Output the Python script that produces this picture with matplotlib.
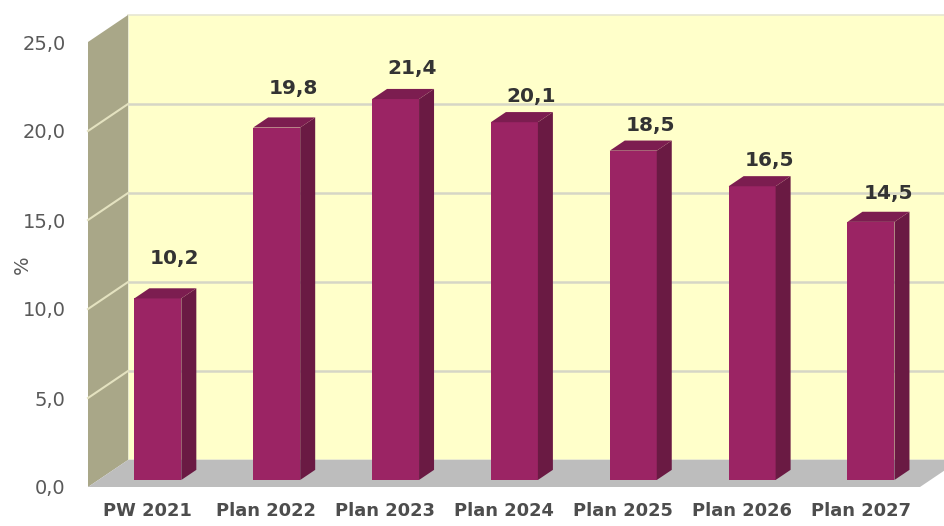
import matplotlib
matplotlib.use("Agg")
import matplotlib.pyplot as plt
from matplotlib.patches import Polygon

categories = ["PW 2021", "Plan 2022", "Plan 2023", "Plan 2024", "Plan 2025", "Plan 2026", "Plan 2027"]
values = [10.2, 19.8, 21.4, 20.1, 18.5, 16.5, 14.5]
value_labels = ["10,2", "19,8", "21,4", "20,1", "18,5", "16,5", "14,5"]
ytick_values = [0, 5, 10, 15, 20, 25]
ytick_labels = ["0,0", "5,0", "10,0", "15,0", "20,0", "25,0"]
label_gap = [2.25, 2.22, 1.74, 1.42, 1.40, 1.46, 1.62]

plt.rcParams['font.family'] = ['DejaVu Sans']

W, H = 945, 526
fig = plt.figure(figsize=(W / 100, H / 100), dpi=100)
fig.patch.set_facecolor("white")
ax_l, ax_b, ax_w, ax_h = 88, 39, 832, 445
ax = fig.add_axes([ax_l / W, ax_b / H, ax_w / W, ax_h / H])
n = len(categories)
x0, x1 = -0.5, n - 0.5
ax.set_xlim(x0, x1)
ax.set_ylim(0, 25)
ax.set_facecolor("none")
for s in ax.spines.values():
    s.set_visible(False)

# depth offsets in data units (40 px right, 27 px up)
px_x = ax_w / (x1 - x0)
px_y = ax_h / 25.0
DX = 40 / px_x
DY = 27 / px_y

def poly(pts, color, z, ec="none", lw=0):
    p = Polygon(pts, closed=True, facecolor=color, edgecolor=ec, linewidth=lw,
                zorder=z, clip_on=False)
    ax.add_patch(p)

# back wall
poly([(x0 + DX, DY), (x1 + DX, DY), (x1 + DX, 25 + DY), (x0 + DX, 25 + DY)], "#FFFFCA", 1,
     ec="#E6E6D2", lw=1.2)
# back wall gridlines
for g in ytick_values[1:-1]:
    ax.plot([x0 + DX, x1 + DX], [g + DY, g + DY], color="#D6D6C6", lw=1.8, zorder=2,
            clip_on=False, solid_capstyle="butt")
# side wall
poly([(x0, 0), (x0 + DX, DY), (x0 + DX, 25 + DY), (x0, 25)], "#A9A788", 3)
for g in ytick_values[1:-1]:
    ax.plot([x0, x0 + DX], [g, g + DY], color="#E4E2C0", lw=1.5, zorder=4, clip_on=False)
# floor
poly([(x0, 0), (x1, 0), (x1 + DX, DY), (x0 + DX, DY)], "#BDBDBD", 5)

# bars
f0, f1 = 0.26, 0.635
bw = 47 / px_x
front_col, side_col, top_col = "#9B2464", "#6A1A43", "#7C1D50"
for i, v in enumerate(values):
    lx = i - bw / 2 + f0 * DX
    rx = i + bw / 2 + f0 * DX
    by = f0 * DY
    ddx = (f1 - f0) * DX
    ddy = (f1 - f0) * DY
    poly([(lx, by), (rx, by), (rx, by + v), (lx, by + v)], front_col, 10)
    poly([(rx, by), (rx + ddx, by + ddy), (rx + ddx, by + v + ddy), (rx, by + v)], side_col, 10)
    poly([(lx, by + v), (rx, by + v), (rx + ddx, by + v + ddy), (lx + ddx, by + v + ddy)], top_col, 10)
    ax.text(i + (f0 + f1) / 2 * DX + 0.08, v + by + label_gap[i], value_labels[i],
            ha="center", va="center", fontsize=14.5, fontweight="bold", color="#333333",
            zorder=12, clip_on=False)

ax.set_yticks(ytick_values)
ax.set_yticklabels(ytick_labels, fontsize=14, color="#595959")
ax.set_xticks(range(n))
ax.set_xticklabels(categories, fontsize=12.9, fontweight="bold", color="#4D4D4D")
ax.tick_params(axis="y", length=0, pad=16)
ax.tick_params(axis="x", length=0, pad=11)
fig.text(22 / W, 1 - 265 / H, "%", rotation=90, ha="center", va="center",
         fontsize=14, color="#595959")

fig.savefig("out.png", dpi=100, facecolor="white")
